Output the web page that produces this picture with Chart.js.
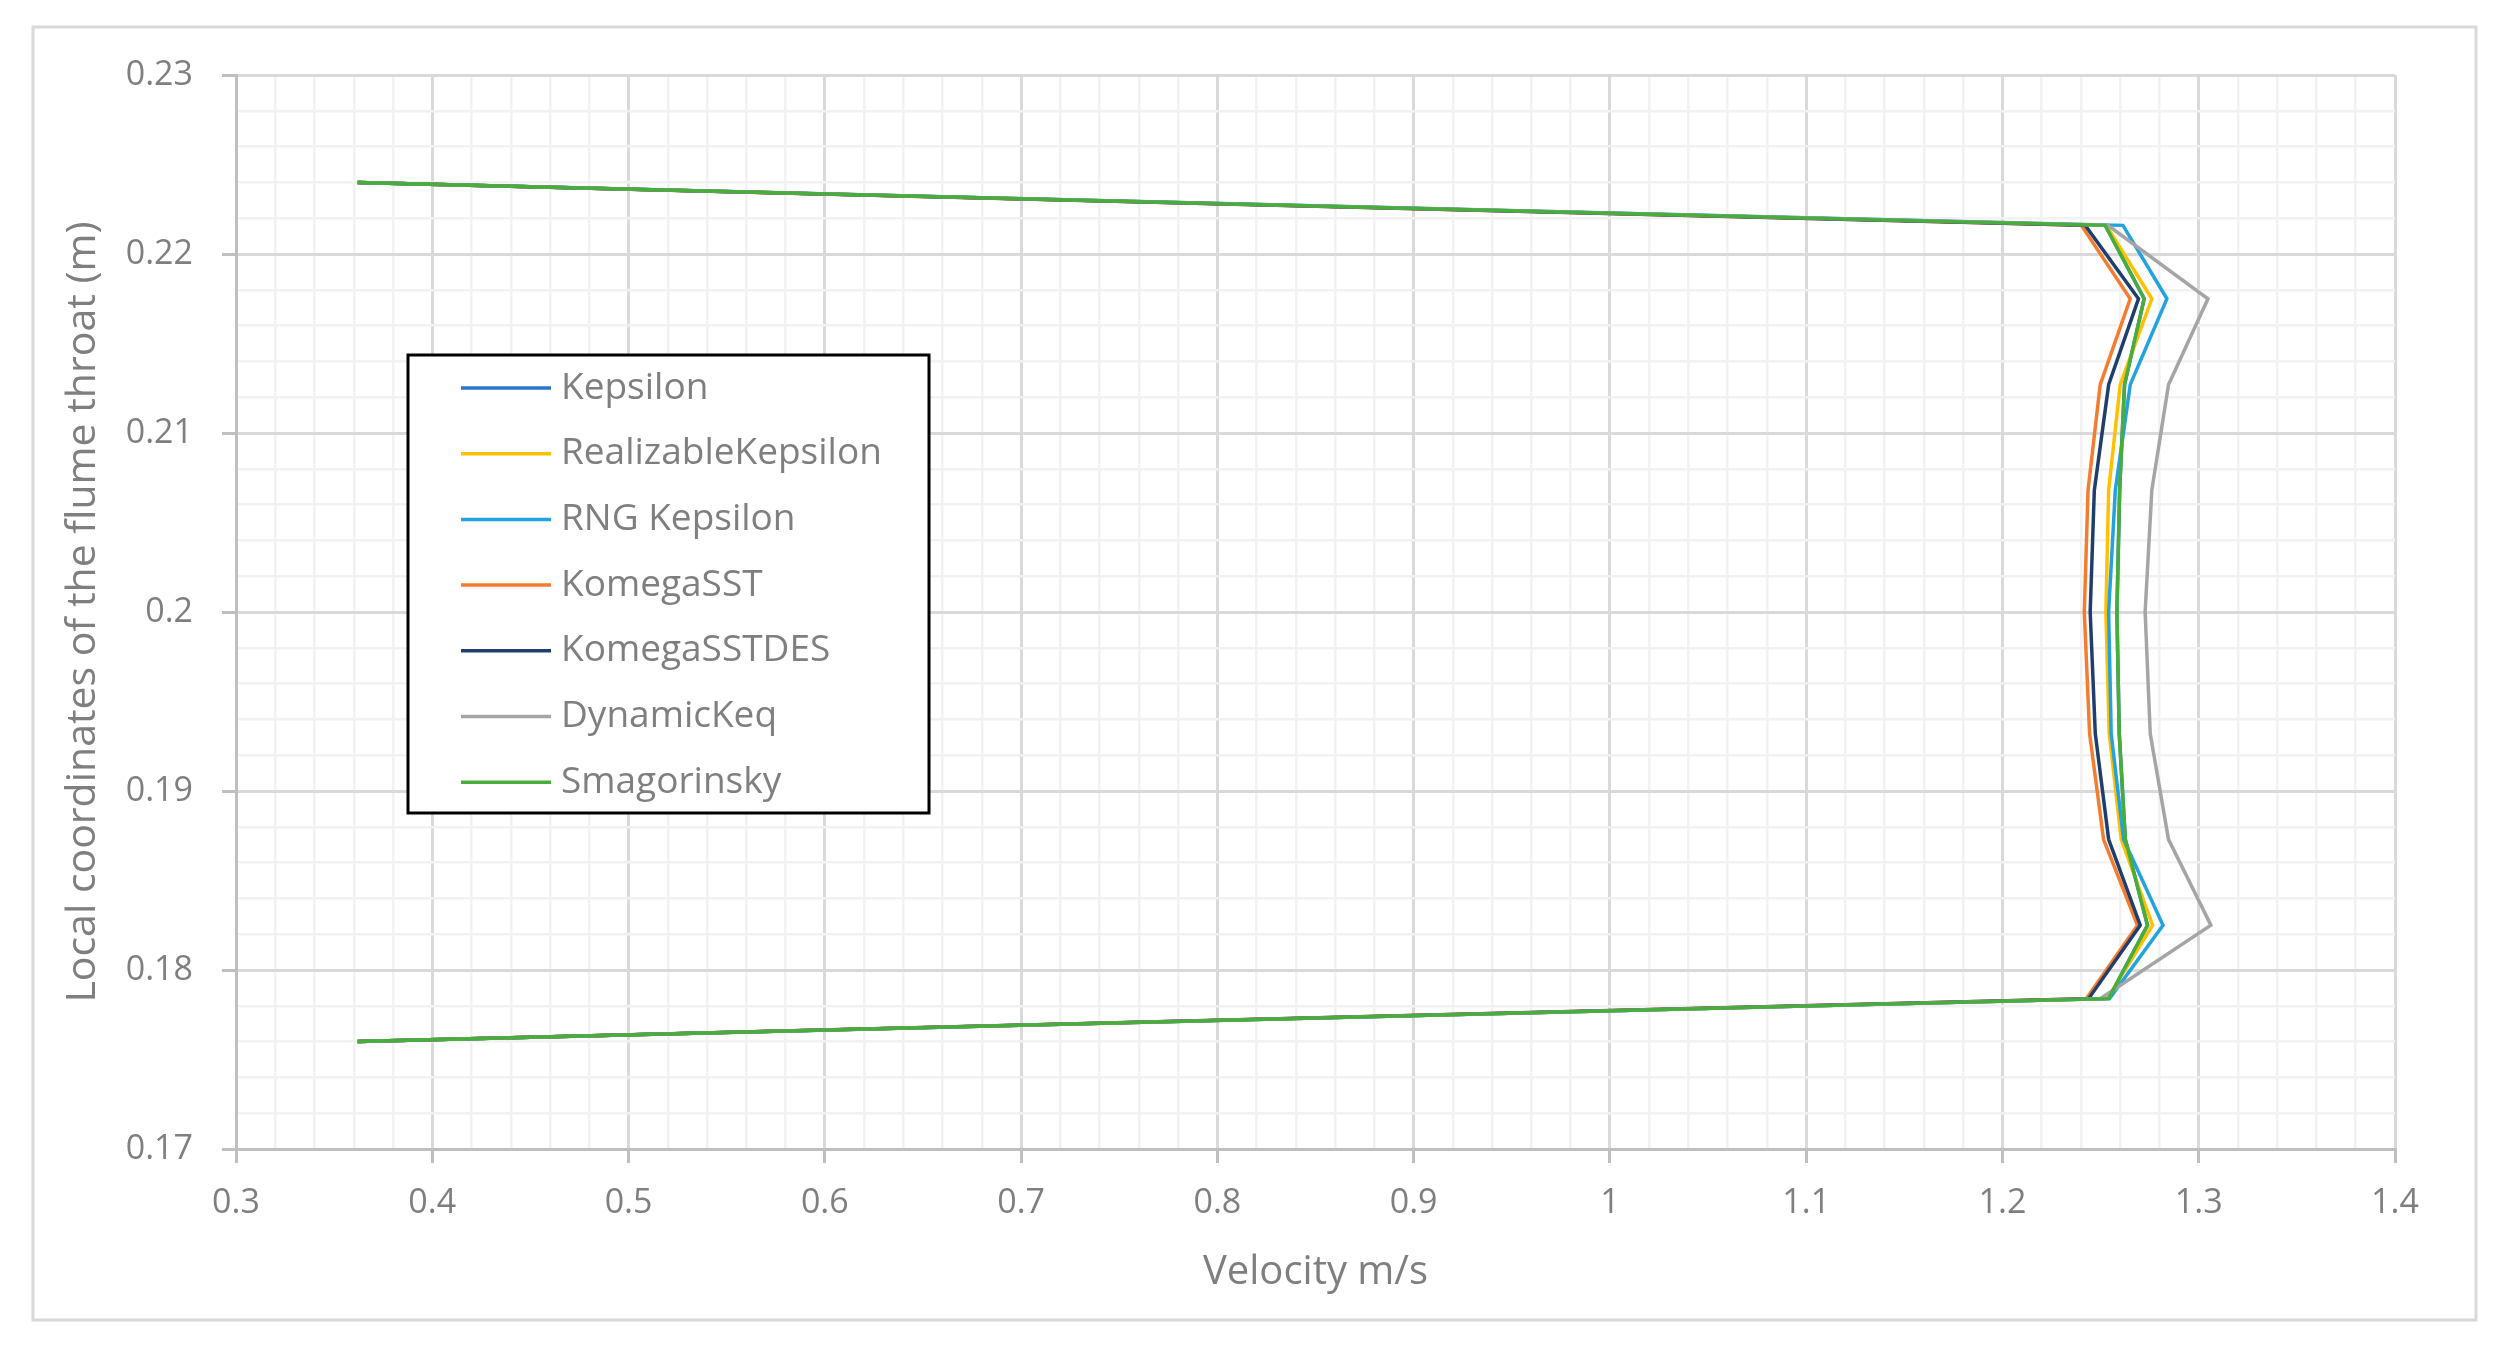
<!DOCTYPE html>
<html lang="en">
<head>
    <meta charset="UTF-8">
    <title>Velocity profile at the flume throat</title>
    <script src="https://cdn.jsdelivr.net/npm/chart.js"></script>
    <style>
        body { margin: 0; background: #fff; }
        #wrap { width: 2495px; height: 1346px; }
    </style>
</head>
<body>
    <div id="wrap"><canvas id="profileChart" width="2495" height="1346"></canvas></div>
    <script>
        // local y coordinate of each sampled point (m)
        const yCoords = [0.224, 0.2216, 0.2175, 0.2127, 0.2068, 0.2, 0.1932, 0.1873, 0.1825, 0.1784, 0.176];

        // velocity (m/s) per turbulence model, same order as yCoords
        const kEpsilon       = [0.362, 1.2524, 1.2722, 1.2622, 1.2597, 1.2583, 1.2595, 1.2626, 1.2739, 1.2541, 0.362];
        const realizableKEps = [0.362, 1.2529, 1.2761, 1.2600, 1.2541, 1.2527, 1.2544, 1.2605, 1.2765, 1.2534, 0.362];
        const rngKEps        = [0.362, 1.2614, 1.2838, 1.2651, 1.2575, 1.2541, 1.2554, 1.2617, 1.2818, 1.2546, 0.362];
        const kOmegaSST      = [0.362, 1.2402, 1.2651, 1.2498, 1.2436, 1.2417, 1.2444, 1.2515, 1.2688, 1.2427, 0.362];
        const kOmegaSSTDES   = [0.362, 1.2422, 1.2693, 1.2541, 1.2468, 1.2447, 1.2473, 1.2541, 1.2702, 1.2439, 0.362];
        const dynamicKeq     = [0.362, 1.2537, 1.3047, 1.2846, 1.2761, 1.2727, 1.2753, 1.2846, 1.3062, 1.2498, 0.362];
        const smagorinsky    = [0.362, 1.2524, 1.2722, 1.2622, 1.2597, 1.2583, 1.2595, 1.2626, 1.2739, 1.2541, 0.362];

        const seriesNames = ['Kepsilon', 'RealizableKepsilon', 'RNG Kepsilon', 'KomegaSST', 'KomegaSSTDES', 'DynamicKeq', 'Smagorinsky'];
        const seriesValues = [kEpsilon, realizableKEps, rngKEps, kOmegaSST, kOmegaSSTDES, dynamicKeq, smagorinsky];
        const seriesColors = ['#2E75C9', '#FFC000', '#22A2DE', '#F47C30', '#1F3E6E', '#A5A5A5', '#47AD3B'];

        const xMin = 0.3, xMax = 1.4, yMin = 0.17, yMax = 0.23;

        const FONT = "'Open Sans', 'Noto Sans', sans-serif";
        const TEXT = '#7F7F7F';

        const isMajor = (v, per) => Math.abs(v * per - Math.round(v * per)) < 1e-6;

        // white background + light outer frame
        const frame = {
            id: 'frame',
            beforeDraw(chart) {
                const c = chart.ctx;
                c.save();
                c.fillStyle = '#fff';
                c.fillRect(0, 0, chart.width, chart.height);
                c.strokeStyle = '#D9D9D9';
                c.lineWidth = 3;
                c.strokeRect(33, 27, 2443, 1293);
                c.restore();
            }
        };

        // boxed legend sitting inside the plot area
        const boxLegend = {
            id: 'boxLegend',
            afterDraw(chart) {
                const c = chart.ctx;
                const bx = 408, by = 355, bw = 521, bh = 458;
                c.save();
                c.fillStyle = '#fff';
                c.fillRect(bx, by, bw, bh);
                c.strokeStyle = '#000';
                c.lineWidth = 3;
                c.strokeRect(bx, by, bw, bh);
                c.font = '37px ' + FONT;
                c.textBaseline = 'middle';
                c.fillStyle = TEXT;
                chart.data.datasets.forEach((ds, i) => {
                    const y = 388 + i * 65.7;
                    c.strokeStyle = ds.borderColor;
                    c.lineWidth = 3.5;
                    c.beginPath();
                    c.moveTo(461, y);
                    c.lineTo(551, y);
                    c.stroke();
                    c.fillText(ds.label, 561, y);
                });
                c.restore();
            }
        };

        // later series are painted on top, as in the spreadsheet
        const datasets = seriesNames.map((name, i) => ({
            label: name,
            data: seriesValues[i].map((v, k) => ({ x: v, y: yCoords[k] })),
            borderColor: seriesColors[i],
            backgroundColor: seriesColors[i],
            borderWidth: 3.5,
            pointRadius: 0,
            showLine: true,
            tension: 0,
            fill: false,
            order: seriesNames.length - i
        }));

        new Chart(document.getElementById('profileChart'), {
            type: 'scatter',
            data: { datasets: datasets },
            options: {
                responsive: false,
                animation: false,
                events: [],
                layout: { padding: { left: 0, right: 100, top: 75, bottom: 0 } },
                plugins: { legend: { display: false }, tooltip: { enabled: false } },
                scales: {
                    x: {
                        type: 'linear', min: xMin, max: xMax,
                        afterFit: s => { s.height = 197; },
                        border: { display: true, color: '#BFBFBF', width: 3 },
                        grid: {
                            color: ctx => isMajor(ctx.tick.value, 10) ? '#D9D9D9' : '#F2F2F2',
                            lineWidth: ctx => isMajor(ctx.tick.value, 10) ? 3 : 2.5,
                            tickColor: ctx => isMajor(ctx.tick.value, 10) ? '#BFBFBF' : 'rgba(0,0,0,0)',
                            tickLength: 14, tickWidth: 3
                        },
                        ticks: {
                            stepSize: 0.02, autoSkip: false, maxRotation: 0, padding: 20,
                            color: TEXT, font: { family: FONT, size: 34 },
                            callback: v => isMajor(v, 10) ? String(Math.round(v * 10) / 10) : ''
                        },
                        title: {
                            display: true, text: 'Velocity m/s', color: TEXT,
                            font: { family: FONT, size: 40 },
                            padding: { top: 0, bottom: 49 }
                        }
                    },
                    y: {
                        type: 'linear', min: yMin, max: yMax,
                        afterFit: s => { s.width = 236; },
                        border: { display: true, color: '#BFBFBF', width: 3 },
                        grid: {
                            color: ctx => isMajor(ctx.tick.value, 100) ? '#D9D9D9' : '#F2F2F2',
                            lineWidth: ctx => isMajor(ctx.tick.value, 100) ? 3 : 2.5,
                            tickColor: ctx => isMajor(ctx.tick.value, 100) ? '#BFBFBF' : 'rgba(0,0,0,0)',
                            tickLength: 14, tickWidth: 3
                        },
                        ticks: {
                            stepSize: 0.002, autoSkip: false, padding: 29,
                            color: TEXT, font: { family: FONT, size: 34 },
                            callback: v => isMajor(v, 100) ? String(Math.round(v * 100) / 100) : ''
                        },
                        title: {
                            display: true, text: 'Local coordinates of the flume throat (m)', color: TEXT,
                            font: { family: FONT, size: 41 },
                            padding: { top: 59, bottom: 0 }
                        }
                    }
                }
            },
            plugins: [frame, boxLegend]
        });
    </script>
</body>
</html>
